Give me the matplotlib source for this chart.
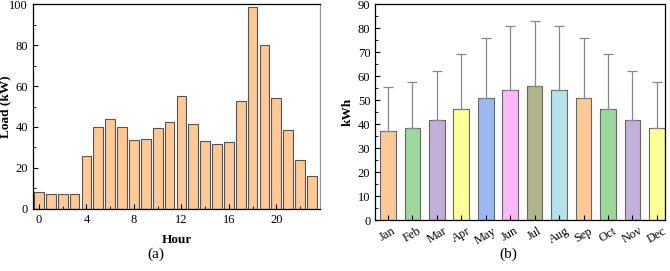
import numpy as np
import matplotlib
matplotlib.use("Agg")
import matplotlib.pyplot as plt
from matplotlib.ticker import MultipleLocator

plt.rcParams["font.family"] = ["Liberation Serif", "DejaVu Serif"]

# hourly load profile (a)
hours = list(range(24))
load_kw = [8.5, 7.5, 7.5, 7.5, 26, 40, 44, 40, 33.5, 34.3, 39.5, 42.5,
           55.2, 41.5, 33.3, 31.8, 32.7, 52.5, 98.5, 80, 54, 38.3, 24, 16.3]

# monthly energy (b)
months = ["Jan", "Feb", "Mar", "Apr", "May", "Jun",
          "Jul", "Aug", "Sep", "Oct", "Nov", "Dec"]
kwh_mean = [37, 38.5, 41.7, 46.3, 51, 54.3, 55.7, 54.3, 51, 46.3, 41.7, 38.5]
kwh_err = [18.3, 19, 20.5, 22.7, 25, 26.5, 27.1, 26.5, 25, 22.7, 20.5, 19]
month_colors = ["#FFC896", "#9CD89C", "#C3B0D8", "#FFFF99", "#9CB8F0", "#FFB8F8",
                "#B2B48E", "#B4E2E8", "#FFC896", "#9CD89C", "#C3B0D8", "#FFFF99"]


def style_axes(ax):
    ax.tick_params(direction="in", which="both", top=False, right=False, labelsize=9)
    ax.tick_params(which="major", length=3.5)
    ax.tick_params(which="minor", length=2)
    for s in ax.spines.values():
        s.set_linewidth(0.9)


fig = plt.figure(figsize=(6.7, 2.71), dpi=100)

ax1 = fig.add_axes([0.0493, 0.229, 0.4287, 0.756])
ax1.bar(hours, load_kw, width=0.82, color="#FFC896", edgecolor="#555555", linewidth=0.8)
ax1.set_xlim(-0.5, 23.7)
ax1.set_ylim(0, 100)
ax1.set_xticks(range(0, 24, 4))
ax1.xaxis.set_minor_locator(MultipleLocator(2))
ax1.yaxis.set_minor_locator(MultipleLocator(10))
ax1.set_xlabel("Hour", fontsize=9.5, fontweight="bold", labelpad=6)
ax1.set_ylabel("Load (kW)", fontsize=9.5, fontweight="bold")
ax1.yaxis.set_label_coords(-0.075, 0.5)
style_axes(ax1)
ax1.spines["right"].set_color("#999999")
fig.text(0.233, 0.06, "(a)", ha="center", va="center", fontsize=11)

ax2 = fig.add_axes([0.56, 0.188, 0.4325, 0.797])
x = np.arange(len(months))
ax2.bar(x, kwh_mean, width=0.64, color=month_colors, edgecolor="#666666", linewidth=0.8,
        yerr=[np.zeros(len(months)), kwh_err], capsize=3.5,
        error_kw=dict(ecolor="#888888", elinewidth=0.9, capthick=0.9))
ax2.set_xlim(-0.52, 11.33)
ax2.set_ylim(0, 90)
ax2.set_xticks(x)
ax2.set_xticklabels(months, rotation=30)
ax2.yaxis.set_major_locator(MultipleLocator(10))
ax2.yaxis.set_minor_locator(MultipleLocator(5))
ax2.set_ylabel("kWh", fontsize=9.5, fontweight="bold")
ax2.yaxis.set_label_coords(-0.075, 0.5)
style_axes(ax2)
fig.text(0.758, 0.06, "(b)", ha="center", va="center", fontsize=11)

fig.savefig("out.png", dpi=100)
